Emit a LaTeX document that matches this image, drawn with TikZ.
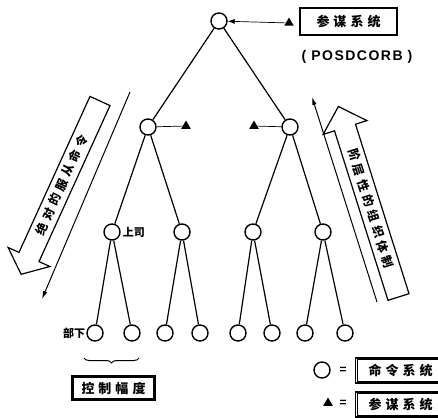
\documentclass[tikz,border=0pt]{standalone}
\usepackage{fontspec}
\newfontfamily\cjk{Noto Sans CJK SC}
\newfontfamily\latb{Liberation Sans}
\usetikzlibrary{shapes.geometric,arrows.meta,decorations.pathreplacing}

% spacing between spread-out characters
\newcommand{\gA}{\kern4pt}
\newcommand{\gB}{\kern4pt}
\newcommand{\gL}{\kern1.5pt}
% inner rule of a framed label
\newcommand{\innerframe}[1]{%
  \draw[line width=0.5pt] ([shift={(2.2pt,-2.2pt)}]#1.north west)
    rectangle ([shift={(-2.2pt,2.2pt)}]#1.south east);}

\begin{document}
\begin{tikzpicture}[x=1pt,y=-1pt,
  org/.style={circle,draw,line width=1.4pt,minimum size=16pt,inner sep=0pt},
  staff/.style={regular polygon,regular polygon sides=3,fill,minimum size=11pt,inner sep=0pt},
  tagbox/.style={draw,line width=1.3pt,inner sep=0pt,
                 font=\cjk\bfseries\fontsize{13}{13}\selectfont},
  link/.style={line width=1.2pt},
  staffline/.style={line width=0.7pt},
  hollow/.style={draw,line width=1.2pt,line join=miter,fill=white},
  flow/.style={line width=1pt,-{Latex[length=8pt,width=4.5pt]}},
  lbl/.style={font=\cjk\bfseries\fontsize{11}{11}\selectfont,inner sep=0pt},
  vtext/.style={font=\cjk\bfseries\fontsize{12}{12}\selectfont,inner sep=0pt}]

\clip (0,0) rectangle (438,417);
\fill[white] (0,0) rectangle (438,417);

% line organisation: command tree
\node[org] (top) at (219,21) {};
\node[org] (a) at (148,127) {};
\node[org] (b) at (290,127) {};
\node[org] (a1) at (112,232) {};
\node[org] (a2) at (182,232) {};
\node[org] (b1) at (253,232) {};
\node[org] (b2) at (323,232) {};
\node[org] (a11) at (95,333) {};
\node[org] (a12) at (132,333) {};
\node[org] (a21) at (165,333) {};
\node[org] (a22) at (200,333) {};
\node[org] (b11) at (238,333) {};
\node[org] (b12) at (272,333) {};
\node[org] (b21) at (305,333) {};
\node[org] (b22) at (345,333) {};

\draw[link] (top) -- (a);
\draw[link] (top) -- (b);
\draw[link] (a) -- (a1);
\draw[link] (a) -- (a2);
\draw[link] (b) -- (b1);
\draw[link] (b) -- (b2);
\draw[link] (a1) -- (a11);
\draw[link] (a1) -- (a12);
\draw[link] (a2) -- (a21);
\draw[link] (a2) -- (a22);
\draw[link] (b1) -- (b11);
\draw[link] (b1) -- (b12);
\draw[link] (b2) -- (b21);
\draw[link] (b2) -- (b22);

% staff units
\node[staff] (st0) at (289,23) {};
\node[tagbox,minimum width=97pt,minimum height=27pt] (stbox) at (348.5,21.5)
  {参\gA 谋\gA 系\gA 统};
\node[font=\latb\bfseries\fontsize{14}{14}\selectfont,inner sep=0pt] (posd) at (357,57)
  {(\kern5pt P\gL O\gL S\gL D\gL C\gL O\gL R\gL B\kern5pt)};
\draw[staffline,-{Latex[length=7pt,width=5pt]}] (st0) -- (top);

\node[staff] (st1) at (186,126) {};
\node[staff] (st2) at (254,126) {};
\draw[staffline] (a) -- (st1);
\draw[staffline] (st2) -- (b);

% labels on the tree
\node[lbl,anchor=west] (boss) at ([xshift=2pt]a1.east) {上司};
\node[lbl,anchor=east] (sub) at ([xshift=-1pt]a11.west) {部下};

% span of control
\coordinate (brl) at (84,358);
\coordinate (brr) at (139,358);
\draw[line width=1pt,decorate,decoration={brace,mirror,amplitude=5pt}] (brl) -- (brr);
\node[tagbox,minimum width=83pt,minimum height=24pt] (span) at (113.5,388)
  {控\gA 制\gA 幅\gA 度};
\innerframe{span}

% key
\node[org] (keyc) at (322,370) {};
\node[font=\latb\bfseries\fontsize{12}{12}\selectfont,inner sep=0pt] (eq1) at (343,370) {=};
\node[tagbox,minimum width=90pt,minimum height=25pt,anchor=west] (keycbox) at (355,370.5)
  {命\gA 令\gA 系\gA 统};
\innerframe{keycbox}
\node[staff] (keyt) at (328,403) {};
\node[font=\latb\bfseries\fontsize{12}{12}\selectfont,inner sep=0pt] (eq2) at (343,403) {=};
\node[tagbox,minimum width=90pt,minimum height=25pt,anchor=west] (keytbox) at (355,404.5)
  {参\gA 谋\gA 系\gA 统};
\innerframe{keytbox}

% downward command flow
\draw[hollow] (90.0,96.4) -- (19.0,252.4) -- (8.1,247.5) -- (21.1,274.3)
  -- (49.9,266.5) -- (39.0,261.6) -- (110.0,105.6) -- cycle;
\node[vtext,rotate=65.5] (obey) at (61.6,185)
  {绝\gB 对\gB 的\gB 服\gB 从\gB 命\gB 令};
\coordinate (fl0) at (130,92);
\coordinate (fl1) at (42,299);
\draw[flow] (fl0) -- (fl1);

% upward hierarchy
\draw[hollow] (388.0,300.3) -- (334.5,130.8) -- (323.1,134.4) -- (338.4,106.5)
  -- (366.9,120.6) -- (355.5,124.2) -- (409.0,293.7) -- cycle;
\node[vtext,rotate=-72.5] (hier) at (371,208.5)
  {阶\gB 层\gB 性\gB 的\gB 组\gB 织\gB 体\gB 制};
\coordinate (fr0) at (377,302);
\coordinate (fr1) at (312,97);
\draw[flow] (fr0) -- (fr1);

\end{tikzpicture}
\end{document}
